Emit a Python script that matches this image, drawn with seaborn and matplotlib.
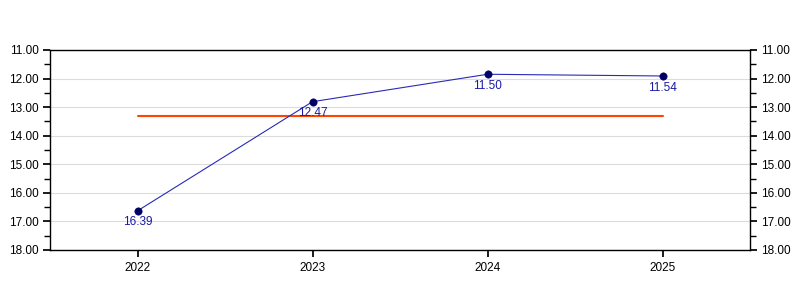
import numpy as np
import pandas as pd
import matplotlib
matplotlib.use("Agg")
import matplotlib.pyplot as plt
import seaborn as sns
from matplotlib.ticker import MultipleLocator, FormatStrFormatter

years = ["2022", "2023", "2024", "2025"]
values = [16.63, 12.81, 11.85, 11.91]
point_labels = ["16.39", "12.47", "11.50", "11.54"]

sns.set_theme(style="white")
plt.rcParams['font.family'] = ['Liberation Sans', 'DejaVu Sans']

df = pd.DataFrame({"x": np.arange(len(years)), "value": values})
mean_val = float(np.mean(values))

fig = plt.figure(figsize=(8, 3), dpi=100)
ax = fig.add_axes([0.0625, 0.1667, 0.875, 0.6667])

ax.yaxis.grid(True, color="#dcdcdc", linewidth=0.8)
ax.set_axisbelow(True)

sns.lineplot(data=df, x="x", y="value", ax=ax, color="#2a2ab8", linewidth=0.8, zorder=3)
ax.plot([0, len(years) - 1], [mean_val, mean_val], color="#ff4500", linewidth=1.5, zorder=2)
sns.scatterplot(data=df, x="x", y="value", ax=ax, color="#000066", s=28, edgecolor="#000066", zorder=4)

for i, (v, t) in enumerate(zip(values, point_labels)):
    ax.annotate(t, (i, v), xytext=(0, -4), textcoords="offset points", ha="center", va="top",
                fontsize=8.5, color="#1a1aa6", zorder=5)

ax.set_xlim(-0.5, len(years) - 0.5)
ax.set_ylim(18, 11)
ax.set_xticks(np.arange(len(years)))
ax.set_xticklabels(years)
ax.yaxis.set_major_locator(MultipleLocator(1))
ax.yaxis.set_minor_locator(MultipleLocator(0.5))
ax.yaxis.set_major_formatter(FormatStrFormatter("%.2f"))
ax.set_xlabel("")
ax.set_ylabel("")

for s in ax.spines.values():
    s.set_color("black")
    s.set_linewidth(1)

ax.tick_params(axis="y", which="both", left=True, right=True, labelleft=True, labelright=True,
               direction="out", color="black", labelsize=8.5, pad=3)
ax.tick_params(axis="y", which="major", length=5)
ax.tick_params(axis="y", which="minor", length=4)
ax.tick_params(axis="x", which="major", bottom=True, direction="out", length=5, color="black", labelsize=8.5, pad=4)
for lbl in ax.get_xticklabels() + ax.get_yticklabels():
    lbl.set_color("black")

fig.savefig("out.png", dpi=100)
